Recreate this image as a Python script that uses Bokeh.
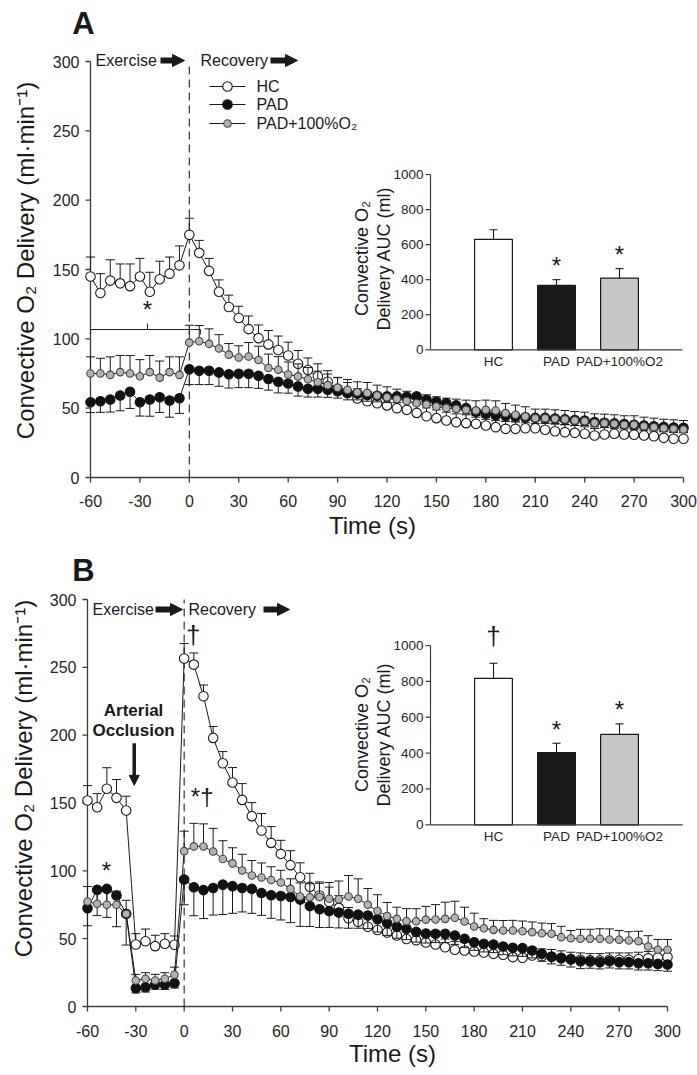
import math
from bokeh.plotting import figure
from bokeh.models import Range1d, Arrow, NormalHead
from bokeh.embed import file_html
from bokeh.resources import INLINE
from bokeh.core.properties import value

FONT = "Liberation Sans"
INK = "#1a1a1a"
AXIS = "#3c3c3c"
TICKC = "#262626"

# ---------------- data ----------------
time_s = [-60, -54, -48, -42, -36, -30, -24, -18, -12, -6, 0, 6, 12, 18, 24, 30, 36, 42, 48, 54,
          60, 66, 72, 78, 84, 90, 96, 102, 108, 114, 120, 126, 132, 138, 144, 150, 156, 162, 168, 174,
          180, 186, 192, 198, 204, 210, 216, 222, 228, 234, 240, 246, 252, 258, 264, 270, 276, 282, 288, 294, 300]

# Panel A
a_hc = [145, 133, 142, 140, 138, 145, 134, 143, 147, 153,
        175, 162, 149, 134, 123, 115, 107, 100.5, 96, 92,
        88, 82, 77.5, 73, 69, 64, 61, 57, 55, 53.5,
        52, 50, 48.8, 46.6, 44.2, 42.8, 41.1, 39.9, 39.2, 38.7,
        37.5, 36.3, 35.1, 35.1, 35.5, 35.5, 34.4, 33.4, 32.7, 32.2,
        31.5, 30.3, 31, 31.5, 31, 30.8, 30.3, 29.8, 28.6, 27.9,
        27.9]
a_hc_err = [14, 14, 15, 14, 16, 13, 14, 13, 12, 14,
            12, 9, 9, 8.5, 8.5, 8.5, 9.5, 9.5, 10, 10,
            9.6, 9.6, 8.7, 9, 8, 8, 7.5, 7, 7, 7,
            6.5, 6.5, 6.5, 6.5, 6, 6, 6, 6, 6, 6,
            6, 6, 5.5, 5.5, 5.5, 5.5, 5.5, 5.5, 5.5, 5.5,
            5, 5, 5, 5, 5, 5, 5, 5, 5, 5,
            5]
a_pad = [54.3, 55, 56.2, 59.1, 61.8, 54.3, 56.2, 57.9, 55.5, 57.2,
         78, 77, 77, 75.8, 74.5, 74.8, 74.8, 73.3, 71, 69,
         67.8, 65.7, 64, 64, 63.3, 62.2, 61, 60.5, 59.5, 59,
         58.5, 58.5, 58.2, 58.5, 56, 54.7, 53.6, 52, 50, 47.5,
         46, 45, 44.5, 44, 43.5, 43, 43, 42.5, 42, 41.5,
         41, 40, 39.5, 39, 38.5, 38, 37.5, 37, 36.5, 36,
         35.8]
a_pad_err = [7.5, 8, 9, 11, 12, 10, 12, 11, 12, 11,
             11, 10, 10, 10, 10, 10, 10, 9, 8, 8,
             7, 7, 6, 6, 5.5, 5, 5, 4.5, 4.5, 4.5,
             4.5, 4.5, 4, 4, 4, 4, 4, 4, 4, 4,
             4, 4, 4, 4, 4, 4, 4, 4, 4, 4,
             3.5, 3.5, 3.5, 3.5, 3.5, 3.5, 3.5, 3.5, 3.5, 3.5,
             3.5]
a_o2 = [75, 75, 74, 76, 75, 73, 76, 72, 76, 74,
        97.3, 98.3, 96.4, 93, 88.6, 86.5, 87.3, 84.7, 79, 77.7,
        74.3, 72.9, 70.8, 68.7, 66.6, 64.7, 63.2, 61.5, 61, 59.1,
        57.9, 56.7, 55.2, 53.5, 52.6, 51.2, 50.2, 49.5, 48.8, 48.3,
        48.8, 48.3, 46.4, 45.2, 44, 42.8, 42.8, 42.3, 41.8, 41.1,
        40.6, 39.4, 39.2, 38.7, 38, 38, 37, 36.3, 35.5, 35.1,
        34.6]
a_o2_err = [12, 11, 13, 12, 13, 12, 12, 12, 11, 13,
            12.5, 11.3, 10.8, 10, 8, 8.5, 10, 10, 10, 9.5,
            9, 9, 8.5, 8, 8, 7.5, 7.5, 7.5, 7.5, 7.5,
            7.5, 7, 7, 7, 7, 7, 7, 7, 7, 7,
            7, 7, 7, 7, 7, 6.5, 6.5, 6.5, 6.5, 6.5,
            6.5, 6.5, 6.5, 6.5, 6.5, 6.5, 6.5, 6.5, 6.5, 6.5,
            6.5]

# Panel B
b_hc = [151.8, 146.9, 160.5, 153.8, 144.5, 45.7, 48.1, 44.5, 46.2, 45.5,
        256.5, 252, 228.7, 198, 179.3, 165.1, 152.3, 140.3, 129.7, 120.6,
        112.5, 104.2, 95.3, 88.2, 81.8, 77, 72.7, 65, 62.5, 58.8,
        56.4, 54.5, 52.3, 49.8, 48.9, 47.2, 45.7, 43.7, 41.8, 41.3,
        40.5, 39.8, 38.8, 38.1, 36.4, 35.9, 37.6, 37, 36.5, 35.5,
        35, 34.5, 34, 34, 34.5, 34.5, 34.5, 35, 35.5, 36,
        36.5]
b_hc_err = [11, 10, 15.5, 13.5, 10.5, 8, 9, 8, 7.5, 6.5,
            11, 8.6, 8.3, 8.4, 8.6, 11, 12, 10, 12.5, 12,
            10, 10.6, 10.6, 10, 10, 11, 9, 8, 7, 7,
            6.5, 6.5, 6, 6, 6, 6, 6, 6, 6, 6,
            6, 6, 5.5, 5.5, 5.5, 5.5, 5.5, 5.5, 5.5, 5.5,
            5, 5, 5, 5, 5, 5, 5, 5, 5, 5,
            5]
b_pad = [72.5, 86, 86.7, 81.8, 68.3, 13.5, 14.2, 16.2, 16, 17.2,
         93.6, 87.9, 85.8, 87.4, 89.8, 88.7, 87.4, 86.7, 83.7, 82,
         81.5, 80.8, 78.8, 74, 71.7, 70.3, 69.2, 68.3, 67.7, 67.1,
         64.4, 61.4, 58.8, 57.3, 55, 53.8, 53.6, 53.6, 52.3, 49.9,
         47.4, 46.2, 45.7, 44.2, 43.3, 43, 41.3, 38.8, 36.9, 35.9,
         34.6, 33.4, 33.2, 32.7, 33.4, 32.7, 32.7, 31.9, 31.9, 31.4,
         31]
b_pad_err = [13, 19, 21, 23, 23, 3.5, 3.5, 3.5, 3.5, 3.5,
             18.6, 21, 21, 20, 22, 20, 17.7, 18, 16.5, 17,
             17.7, 19, 19.7, 15, 13.5, 12, 11.3, 10.6, 10, 9.7,
             9.5, 9, 8.5, 8, 7.5, 7, 6.5, 6.5, 6.5, 6.5,
             6, 6, 6, 6, 6, 6, 5.5, 5.5, 5.5, 5.5,
             5.5, 5.5, 5, 5, 5, 5, 5, 5, 5, 5,
             5]
b_o2 = [77.4, 75.7, 75, 75, 68.3, 19.2, 20.4, 19.2, 20.4, 23.4,
        114.5, 118, 117.9, 114.3, 108.7, 105.5, 100.2, 96.6, 95.1, 93.2,
        91.4, 86.7, 81.1, 80.5, 80.8, 79.4, 79, 81.1, 79.4, 75,
        70.4, 66.7, 64.6, 62.8, 62.8, 64, 64.1, 64.6, 65.4, 62.7,
        59, 57.7, 56.5, 56, 56, 55.5, 54.8, 54, 53.6, 51.1,
        50.3, 49.9, 49.9, 49.9, 49.4, 49.2, 48.6, 48.1, 44.2, 41.8,
        41.8]
b_o2_err = [11, 10, 10, 10, 10, 4.5, 4.5, 4.5, 4.5, 5.6,
            14.7, 17, 16.7, 17, 13.5, 11.5, 12, 11, 10.7, 9.8,
            9, 7.4, 10, 10, 10, 12, 13.5, 15.5, 14.7, 12,
            12, 10, 8.6, 9.3, 9.3, 9.8, 11, 12.3, 12.2, 10.5,
            9.8, 7, 7, 7.4, 7.5, 7.5, 7.5, 7.5, 7.5, 8,
            5.7, 7, 7, 7.4, 7.8, 6.8, 6.5, 7.4, 8, 7.6,
            7.6]

# Inset bar charts (AUC)
auc_groups = ["HC", "PAD", "PAD+100%O2"]
a_auc = [630, 367, 409]
a_auc_err = [55, 33, 54]
b_auc = [817, 403, 504]
b_auc_err = [84, 52, 59]
a_auc_marks = ["", "*", "*"]
b_auc_marks = ["†", "*", "*"]

y_ticks = [0, 50, 100, 150, 200, 250, 300]
x_ticks = [-60, -30, 0, 30, 60, 90, 120, 150, 180, 210, 240, 270, 300]
inset_ticks = [0, 200, 400, 600, 800, 1000]
series_names = ["HC", "PAD", "PAD+100%O₂"]

# ---------------- layout (page pixels) ----------------
FW, FH = 697, 1070
OFF = 0  # canvas origin on the page


class Map:
    """Linear map between page pixels and one panel's data coordinates."""

    def __init__(self, xn, yn, px_a, x_a, px_b, x_b, py_a, y_a, py_b, y_b):
        self.xn, self.yn = xn, yn
        self.px_a, self.x_a = px_a, x_a
        self.sx = (px_b - px_a) / (x_b - x_a)
        self.py_a, self.y_a = py_a, y_a
        self.sy = (py_a - py_b) / (y_b - y_a)

    def X(self, page_x):
        return self.x_a + (page_x - self.px_a) / self.sx

    def Y(self, page_y):
        return self.y_a + (self.py_a - page_y) / self.sy

    def xrange(self):
        return Range1d(self.X(OFF), self.X(OFF + FW))

    def yrange(self):
        return Range1d(self.Y(OFF + FH), self.Y(OFF))

    def kw(self):
        return dict(x_range_name=self.xn, y_range_name=self.yn)


mA = Map("default", "default", 90, -60, 683, 300, 477, 0, 61, 300)
mB = Map("bx", "by", 87, -60, 667, 300, 1006, 0, 599, 300)
iA = Map("iax", "iay", 430, 0, 682, 4, 349.3, 0, 174, 1000)
iB = Map("ibx", "iby", 430, 0, 682, 4, 824.3, 0, 645, 1000)

p = figure(width=FW, height=FH, x_range=mA.xrange(), y_range=mA.yrange(),
           x_axis_location=None, y_axis_location=None,
           output_backend="svg", toolbar_location=None,
           min_border_left=0, min_border_right=0, min_border_top=0, min_border_bottom=0)
p.extra_x_ranges = {"bx": mB.xrange(), "iax": iA.xrange(), "ibx": iB.xrange()}
p.extra_y_ranges = {"by": mB.yrange(), "iay": iA.yrange(), "iby": iB.yrange()}
p.outline_line_color = None
p.grid.visible = False


def txt(m, x, y, s, size, align="center", baseline="middle", bold=False, angle=0.0, color=INK):
    p.text(x=[x], y=[y], text=[s], text_font=value(FONT), text_font_size=size,
           text_font_style="bold" if bold else "normal", text_align=align,
           text_baseline=baseline, angle=angle, text_color=color, **m.kw())


def arrow(m, x0, y0, x1, y1, width, head):
    p.add_layout(Arrow(end=NormalHead(size=head, fill_color=INK, line_color=INK, line_width=1),
                       x_start=x0, y_start=y0, x_end=x1, y_end=y1,
                       line_color=INK, line_width=width, **m.kw()))


def main_panel(m, hc, hc_e, pad, pad_e, o2, o2_e, geo):
    k = m.kw()
    x0, x1 = x_ticks[0], x_ticks[-1]
    y0, y1 = y_ticks[0], y_ticks[-1]
    # axes
    p.segment(x0=[x0, x0], y0=[y0, y0], x1=[x0, x1], y1=[y1, y0], line_color=AXIS, line_width=1.3, **k)
    ny, nx = len(y_ticks), len(x_ticks)
    p.segment(x0=[x0 - 5 / m.sx] * ny, y0=y_ticks, x1=[x0] * ny, y1=y_ticks,
              line_color=AXIS, line_width=1.3, **k)
    p.segment(x0=x_ticks, y0=[y0] * nx, x1=x_ticks, y1=[y0 - 5 / m.sy] * nx,
              line_color=AXIS, line_width=1.3, **k)
    p.text(x=[x0 - 11 / m.sx] * ny, y=y_ticks, text=[str(v) for v in y_ticks], text_font=value(FONT),
           text_font_size="16px", text_align="right", text_baseline="middle", text_color=TICKC, **k)
    p.text(x=x_ticks, y=[y0 - geo["xlab_dy"] / m.sy] * nx, text=[str(v) for v in x_ticks],
           text_font=value(FONT), text_font_size="16px", text_align="center", text_baseline="middle",
           text_color=TICKC, **k)
    # dashed divider at exercise end
    p.segment(x0=[0], y0=[y0], x1=[0], y1=[y1], line_color="#333333", line_width=1.2,
              line_dash="8 5", **k)

    def draw_series(y, e, d, size, fill, line):
        tip = [v + d * err for v, err in zip(y, e)]
        p.segment(x0=time_s, y0=y, x1=time_s, y1=tip, line_color=INK, line_width=1, **k)
        p.scatter(x=time_s, y=tip, marker="dash", size=9, line_color=INK, line_width=1, **k)
        p.line(x=time_s, y=y, line_color=INK, line_width=1, **k)
        p.scatter(x=time_s, y=y, size=size, fill_color=fill, line_color=line, line_width=1.1, **k)

    draw_series(hc, hc_e, 1, 9.5, "white", INK)
    draw_series(pad, pad_e, -1, 9.5, "#111111", "#111111")
    draw_series(o2, o2_e, 1, 7.5, "#b3b3b3", "#444444")

    # phase labels with block arrows
    py = m.Y(geo["phase_py"])
    for (pa, pb, label, ptxt) in geo["phases"]:
        txt(m, m.X(ptxt), py, label, "16px", align="left")
        arrow(m, m.X(pa), py, m.X(pb), py, 6, 12)

    # titles and letter
    txt(m, m.X(geo["ytitle"][0]), m.Y(geo["ytitle"][1]), "Convective O₂ Delivery (ml·min⁻¹)", "24px",
        angle=math.pi / 2)
    txt(m, m.X(geo["xtitle"][0]), m.Y(geo["xtitle"][1]), "Time (s)", "24px")
    txt(m, m.X(geo["letter"][0]), m.Y(geo["letter"][1]), geo["name"], "31px", bold=True)


def inset(m, auc, auc_e, marks, title_py):
    k = m.kw()
    ic = list(range(1, len(auc_groups) + 1))
    p.vbar(x=ic, top=auc, bottom=0, width=0.6, fill_color=["white", "#1a1a1a", "#c8c8c8"],
           line_color=INK, line_width=1.2, **k)
    tips = [v + e for v, e in zip(auc, auc_e)]
    p.segment(x0=ic, y0=auc, x1=ic, y1=tips, line_color=INK, line_width=1.1, **k)
    p.scatter(x=ic, y=tips, marker="dash", size=8, line_color=INK, line_width=1.1, **k)
    n = len(inset_ticks)
    p.segment(x0=[0, 0], y0=[inset_ticks[0], 0], x1=[0, len(auc_groups) + 1], y1=[inset_ticks[-1], 0],
              line_color=AXIS, line_width=1.2, **k)
    p.segment(x0=[-5 / m.sx] * n, y0=inset_ticks, x1=[0] * n, y1=inset_ticks,
              line_color=AXIS, line_width=1.2, **k)
    p.text(x=[-7 / m.sx] * n, y=inset_ticks, text=[str(v) for v in inset_ticks], text_font=value(FONT),
           text_font_size="13.5px", text_align="right", text_baseline="middle", text_color=TICKC, **k)
    p.text(x=ic, y=[-12 / m.sy] * len(ic), text=auc_groups, text_font=value(FONT),
           text_font_size="13.5px", text_align="center", text_baseline="middle", text_color=TICKC, **k)
    txt(m, m.X(361), m.Y(title_py), "Convective O₂", "18px", angle=math.pi / 2)
    txt(m, m.X(383), m.Y(title_py), "Delivery AUC (ml)", "18px", angle=math.pi / 2)
    for c, t, mk in zip(ic, tips, marks):
        if mk == "*":
            txt(m, c, t + 14 / m.sy, mk, "24px")
        elif mk:
            txt(m, c, t + 12 / m.sy, mk, "26px", baseline="bottom")


geoA = dict(name="A", xlab_dy=23, phase_py=60,
            phases=[(160, 184, "Exercise", 95), (270, 297, "Recovery", 200)],
            ytitle=(25, 260), xtitle=(372, 525), letter=(83, 23))
geoB = dict(name="B", xlab_dy=24, phase_py=609,
            phases=[(155, 182, "Exercise", 92), (263, 289, "Recovery", 188)],
            ytitle=(23, 778), xtitle=(392, 1053), letter=(83, 570))

main_panel(mA, a_hc, a_hc_err, a_pad, a_pad_err, a_o2, a_o2_err, geoA)
main_panel(mB, b_hc, b_hc_err, b_pad, b_pad_err, b_o2, b_o2_err, geoB)
inset(iA, a_auc, a_auc_err, a_auc_marks, 258)
inset(iB, b_auc, b_auc_err, b_auc_marks, 734)

# ---- Panel A extras: legend and significance bracket ----
leg_py = [86, 104, 123]
leg_style = [(9.5, "white", INK), (9.5, "#111111", "#111111"), (7.5, "#b3b3b3", "#444444")]
for py_, name, (sz, fc, lc) in zip(leg_py, series_names, leg_style):
    yy = mA.Y(py_)
    p.segment(x0=[mA.X(209)], y0=[yy], x1=[mA.X(245)], y1=[yy], line_color=INK, line_width=1)
    p.scatter(x=[mA.X(227)], y=[yy], size=sz, fill_color=fc, line_color=lc, line_width=1.1)
    txt(mA, mA.X(256), yy, name, "16px", align="left")

br_y, br_lo, br_hi = 106.7, 103.1, 111
br_l, br_r, br_m = -60, 6.7, -25.4
p.segment(x0=[br_l, br_l, br_r, br_m], y0=[br_y] * 4, x1=[br_r, br_l, br_r, br_m],
          y1=[br_y, br_lo, br_lo, br_hi], line_color=INK, line_width=1)
txt(mA, br_m, 121, "*", "24px")

# ---- Panel B extras ----
txt(mB, -48.2, 100, "*", "24px")
txt(mB, 11.2, 155, "*†", "24px")
txt(mB, 5.6, 274, "†", "26px")
txt(mB, -31.4, 218.2, "Arterial", "17px", bold=True)
txt(mB, -31.4, 203.5, "Occlusion", "17px", bold=True)
arrow(mB, -31.0, 194, -31.0, 163, 3.5, 10)

open("out.html", "w").write(file_html(p, INLINE))
